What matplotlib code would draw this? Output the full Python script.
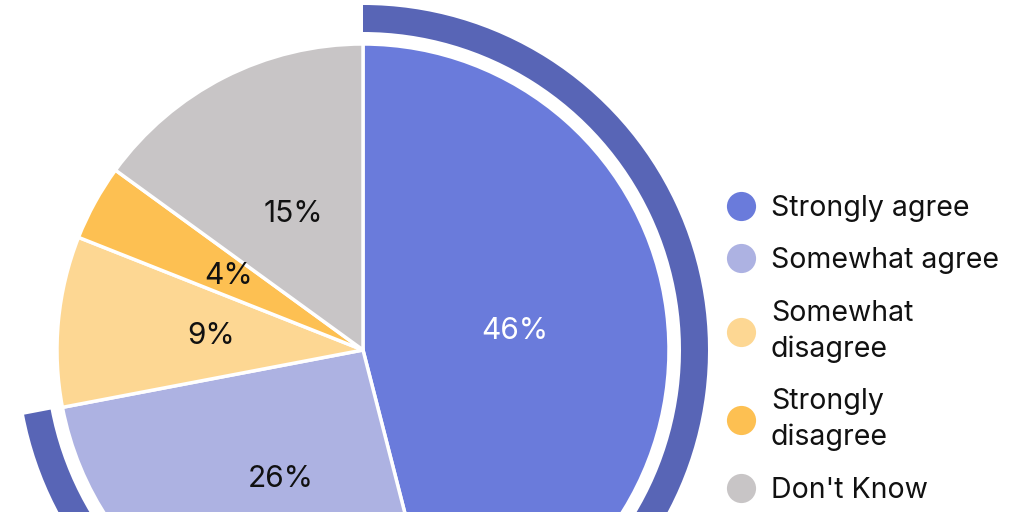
import numpy as np
import matplotlib.pyplot as plt
from matplotlib.lines import Line2D

plt.rcParams['font.family'] = ['Inter', 'DejaVu Sans']

# survey answers
labels = ['Strongly agree', 'Somewhat agree', 'Somewhat\ndisagree',
          'Strongly\ndisagree', "Don't Know"]
values = [46, 26, 9, 4, 15]
colors = ['#6a7bdb', '#adb2e2', '#fdd793', '#fdc052', '#c8c5c6']
label_colors = ['white', '#111111', '#111111', '#111111', '#111111']
ring_color = '#5865b6'

# total agreement highlighted by the outer ring
agree_total = values[0] + values[1]
ring_values = [agree_total, sum(values) - agree_total]

fig = plt.figure(figsize=(10.24, 5.12), dpi=100)
ax = fig.add_axes([0, 0, 1, 1])

# pie in pixel units, centre partly below the canvas
cx, cy = 363, 512 - 350
R = 306

ax.pie(values, colors=colors, startangle=90, counterclock=False,
       radius=R, center=(cx, cy), frame=True,
       wedgeprops=dict(edgecolor='white', linewidth=2.5))

ax.pie(ring_values, colors=[ring_color, (0, 0, 0, 0)], startangle=90,
       counterclock=False, radius=345, center=(cx, cy), frame=True,
       wedgeprops=dict(width=27, linewidth=0))

# percentage labels at half the radius
start = 90.0
for v, lc in zip(values, label_colors):
    sweep = v / sum(values) * 360
    ang = np.radians(start - sweep / 2)
    start -= sweep
    ax.text(cx + 0.5 * R * np.cos(ang), cy + 0.5 * R * np.sin(ang), f'{v}%',
            ha='center', va='center', fontsize=21.5, color=lc)

ax.set_xlim(0, 1024)
ax.set_ylim(0, 512)
ax.set_aspect('equal')
ax.axis('off')

handles = [Line2D([], [], marker='o', linestyle='none', markersize=21,
                  markerfacecolor=c, markeredgecolor='none') for c in colors]
leg = fig.legend(handles, labels, loc='center left', bbox_to_anchor=(0.7097, 0.318),
                 frameon=False, fontsize=20.5, handlelength=1.0, handletextpad=0.55,
                 labelspacing=0.9, borderpad=0, borderaxespad=0,
                 labelcolor='#111111')
for t in leg.get_texts():
    t.set_linespacing(1.38)

fig.savefig('out.png', dpi=100)
